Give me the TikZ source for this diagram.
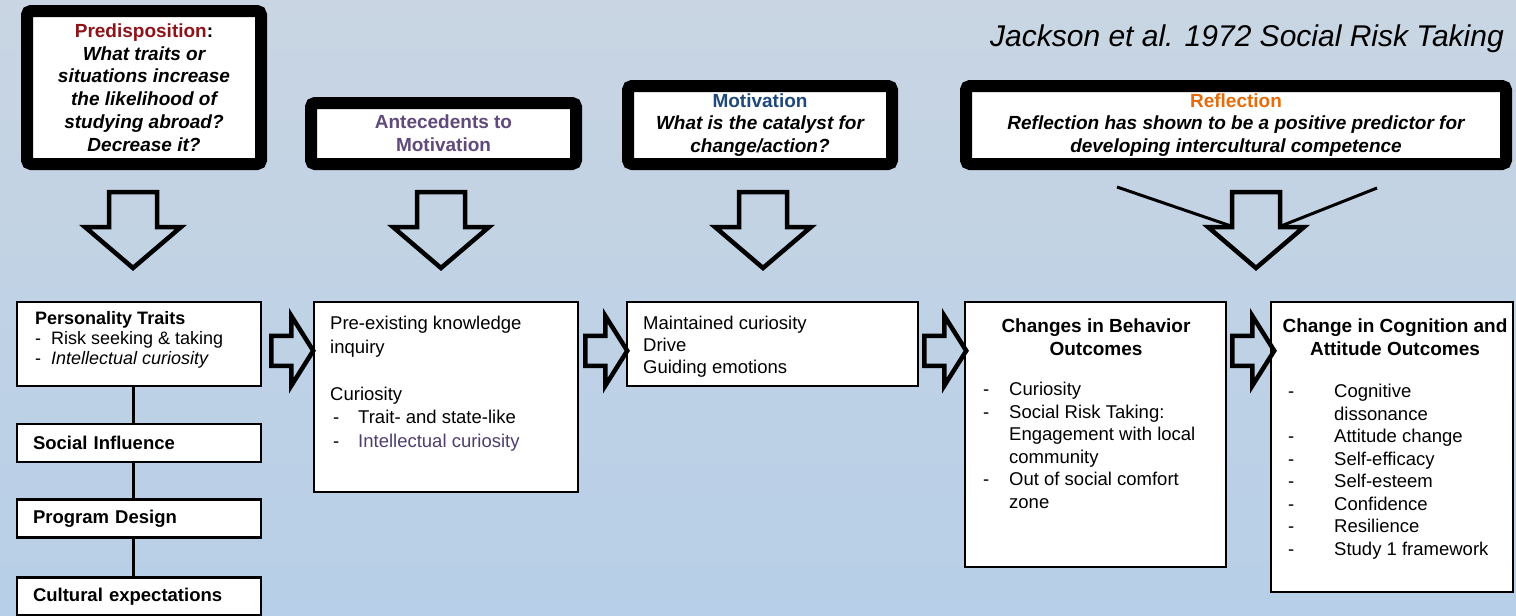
\documentclass[tikz,border=0pt]{standalone}
\usepackage{fontspec}
\setmainfont{Liberation Sans}
\usetikzlibrary{calc}

\definecolor{bgtop}{RGB}{201,213,226}
\definecolor{bgbottom}{RGB}{183,207,232}
\definecolor{predred}{RGB}{140,20,26}
\definecolor{antpurple}{RGB}{96,73,123}
\definecolor{motblue}{RGB}{31,73,125}
\definecolor{reforange}{RGB}{228,108,10}
\definecolor{intpurple}{RGB}{78,62,110}

\newcommand{\itemdash}[2][16pt]{\makebox[#1][l]{-}#2}

\tikzset{
  blk/.style={line width=4.5pt, line join=miter},
  darrow/.pic={\draw[blk] (-24,0) -- (24,0) -- (24,35) -- (48,35) -- (0,76) -- (-48,35) -- (-24,35) -- cycle;},
  rarrow/.pic={\draw[blk] (0,-15) -- (20,-15) -- (20,-35) -- (42,0) -- (20,35) -- (20,15) -- (0,15) -- cycle;}
}

\begin{document}
\begin{tikzpicture}[x=1pt, y=-1pt,
    topbox/.style={draw, line width=12pt, fill=white, rounded corners=4pt, inner sep=0pt, align=center,
      font=\fontsize{19}{22.7}\selectfont\bfseries\itshape},
    box/.style={draw, line width=2.5pt, fill=white, inner sep=0pt},
    lbox/.style={box, minimum width=244pt, minimum height=38pt, text width=212pt, inner xsep=16pt, align=left,
      font=\fontsize{18.5}{22}\selectfont\bfseries},
    txt/.style={inner sep=0pt, anchor=north west, align=left, font=\fontsize{18.5}{22.5}\selectfont},
    hdr/.style={inner sep=0pt, anchor=north, align=center, font=\fontsize{19}{23}\selectfont\bfseries},
    link/.style={line width=3pt}]

    % background
    \useasboundingbox (0,0) rectangle (1516,616);
    \shade[top color=bgtop, bottom color=bgbottom] (0,0) rectangle (1516,616);

    % title
    \node[anchor=base east, inner sep=0pt, font=\fontsize{30}{32}\selectfont\itshape] (title) at (1504,46)
      {Jackson et al. 1972 Social Risk Taking};

    % question boxes
    \node[topbox, minimum width=234pt, minimum height=153pt] (pred) at (144,87.5)
      {\textup{\textcolor{predred}{Predisposition}:}\\What traits or\\situations increase\\the likelihood of\\studying abroad?\\Decrease it?};
    \node[topbox, minimum width=265pt, minimum height=61pt, text=antpurple,
      font=\fontsize{19}{23}\selectfont\bfseries] (ante) at (443.5,133.5) {Antecedents to\\Motivation};
    \node[topbox, minimum width=264pt, minimum height=78pt] (moti) at (760,125)
      {\textup{\textcolor{motblue}{Motivation}}\\What is the catalyst for\\change/action?};
    \node[topbox, minimum width=540pt, minimum height=78pt] (refl) at (1236,125)
      {\textup{\textcolor{reforange}{Reflection}}\\Reflection has shown to be a positive predictor for\\developing intercultural competence};

    % down arrows
    \pic at (133,192) {darrow};
    \pic at (441,192) {darrow};
    \pic at (763,192) {darrow};
    \pic at (1256,192) {darrow};

    % lines into the reflection arrow
    \draw[link] (1117,187) -- (1231,226);
    \draw[link] (1377,188) -- (1281,226);

    % predisposition column
    \node[box, minimum width=244pt, minimum height=84pt] (pers) at (139,344) {};
    \node[txt, font=\fontsize{18}{20}\selectfont] (perstxt) at (35,311)
      {\textbf{Personality Traits}\\\itemdash{Risk seeking \& taking}\\\itemdash{\textit{Intellectual curiosity}}};
    \node[lbox] (soc) at (139,443) {Social Influence};
    \node[lbox] (prog) at (139,518.5) {Program Design};
    \node[lbox] (cult) at (139,596.5) {Cultural expectations};
    \draw[link] ([xshift=-6pt]pers.south) -- ([xshift=-6pt]soc.north);
    \draw[link] ([xshift=-6pt]soc.south) -- ([xshift=-6pt]prog.north);
    \draw[link] ([xshift=-6pt]prog.south) -- ([xshift=-6pt]cult.north);

    % antecedents
    \node[box, minimum width=264pt, minimum height=190pt] (pre) at (446,397) {};
    \node[txt, font=\fontsize{18.5}{23.5}\selectfont] (pretxt) at (330,316)
      {Pre-existing knowledge\\inquiry\\[23.5pt]Curiosity\\\hspace*{3pt}\itemdash[25pt]{Trait- and state-like}\\
       \hspace*{3pt}\itemdash[25pt]{\textcolor{intpurple}{Intellectual curiosity}}};

    % motivation
    \node[box, minimum width=291pt, minimum height=84pt] (main) at (772.5,344) {};
    \node[txt, font=\fontsize{18.5}{22}\selectfont] (maintxt) at (643,316)
      {Maintained curiosity\\Drive\\Guiding emotions};

    % behaviour outcomes
    \node[box, minimum width=261pt, minimum height=265pt] (chg) at (1095.5,434.5) {};
    \node[hdr] (chghead) at (1096,319) {Changes in Behavior\\Outcomes};
    \node[txt] (chglist) at (983,382)
      {\itemdash[26pt]{Curiosity}\\\itemdash[26pt]{Social Risk Taking:}\\\hspace*{26pt}Engagement with local\\
       \hspace*{26pt}community\\\itemdash[26pt]{Out of social comfort}\\\hspace*{26pt}zone};

    % cognition outcomes
    \node[box, minimum width=242pt, minimum height=290pt] (cog) at (1392,447) {};
    \node[hdr] (coghead) at (1395,319) {Change in Cognition and\\Attitude Outcomes};
    \node[txt] (coglist) at (1288,384)
      {\itemdash[46pt]{Cognitive}\\\hspace*{46pt}dissonance\\\itemdash[46pt]{Attitude change}\\\itemdash[46pt]{Self-efficacy}\\
       \itemdash[46pt]{Self-esteem}\\\itemdash[46pt]{Confidence}\\\itemdash[46pt]{Resilience}\\\itemdash[46pt]{Study 1 framework}};

    % flow arrows
    \pic at ($(pers.north east)+(9,50)$) {rarrow};
    \pic at ($(pre.north east)+(6,50)$) {rarrow};
    \pic at ($(main.north east)+(5,50)$) {rarrow};
    \pic at ($(chg.north east)+(5,50)$) {rarrow};
  \end{tikzpicture}
\end{document}
